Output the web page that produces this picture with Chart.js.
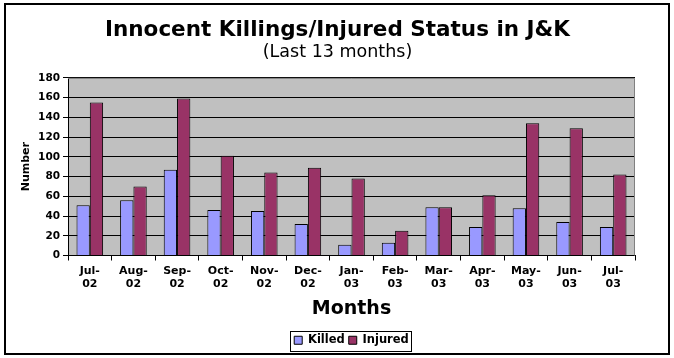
<!DOCTYPE html>
<html>
<head>
<meta charset="utf-8">
<script src="https://cdn.jsdelivr.net/npm/chart.js@4/dist/chart.umd.min.js"></script>
<style>
  html, body { margin: 0; padding: 0; background: #ffffff; }
  #wrap { width: 674px; height: 358px; position: relative; }
</style>
</head>
<body>
<div id="wrap"><canvas id="c" width="674" height="358"></canvas></div>
<script>
const months = [['Jul-','02'],['Aug-','02'],['Sep-','02'],['Oct-','02'],['Nov-','02'],['Dec-','02'],['Jan-','03'],['Feb-','03'],['Mar-','03'],['Apr-','03'],['May-','03'],['Jun-','03'],['Jul-','03']];
const killed  = [51, 56, 87, 46, 45, 32, 11, 13, 49, 29, 48, 34, 29];
const injured = [155, 70, 159, 101, 84, 89, 78, 25, 49, 61, 134, 129, 82];
const titleText = 'Innocent Killings/Injured Status in J&K';
const subtitleText = '(Last 13 months)';
const yTitle = 'Number';
const xTitle = 'Months';

const FONT = "'DejaVu Sans', Verdana, sans-serif";

const framePlugin = {
  id: 'frame',
  afterLayout(chart) {
    const lg = chart.legend;
    if (lg) { lg.left += 24; lg.right += 24; }
    chart.boxes.forEach(b => {
      if (b.position === 'top' && b !== lg) { b.left += 10; b.right += 10; }
    });
  },
  beforeDraw(chart) {
    const ctx = chart.ctx;
    const a = chart.chartArea;
    ctx.save();
    ctx.fillStyle = '#ffffff';
    ctx.fillRect(0, 0, chart.width, chart.height);
    ctx.fillStyle = '#C0C0C0';
    ctx.fillRect(a.left, a.top, a.right - a.left, a.bottom - a.top);
    ctx.restore();
  },
  afterDatasetsDraw(chart) {
    const ctx = chart.ctx;
    const a = chart.chartArea;
    ctx.save();
    ctx.strokeStyle = '#808080';
    ctx.lineWidth = 1;
    ctx.beginPath();
    ctx.moveTo(a.left, a.top + 0.5);
    ctx.lineTo(a.right - 0.5, a.top + 0.5);
    ctx.lineTo(a.right - 0.5, a.bottom);
    ctx.stroke();
    ctx.restore();
  },
  afterDraw(chart) {
    const ctx = chart.ctx;
    ctx.save();
    ctx.strokeStyle = '#000000';
    ctx.lineWidth = 2;
    ctx.strokeRect(5, 4, 664, 350);
    const hb = chart.legend && chart.legend.legendHitBoxes;
    if (hb && hb.length) {
      let l = Infinity, t = Infinity, r = -Infinity, b = -Infinity;
      hb.forEach(h => { l = Math.min(l, h.left); t = Math.min(t, h.top); r = Math.max(r, h.left + h.width); b = Math.max(b, h.top + h.height); });
      ctx.lineWidth = 1;
      ctx.strokeRect(Math.round(l - 4) + 0.5, Math.round(t - 4) + 0.5, Math.round(r - l + 6), Math.round(b - t + 8));
    }
    ctx.restore();
  }
};

new Chart(document.getElementById('c'), {
  type: 'bar',
  data: {
    labels: months,
    datasets: [
      { label: 'Killed', data: killed, backgroundColor: '#9999FF', borderColor: '#000000', borderWidth: 1 },
      { label: 'Injured', data: injured, backgroundColor: '#993366', borderColor: '#000000', borderWidth: 1 }
    ]
  },
  options: {
    responsive: false,
    animation: false,
    devicePixelRatio: 1,
    layout: { padding: { left: 20, right: 39, top: 0, bottom: 2 } },
    datasets: { bar: { categoryPercentage: 0.61, barPercentage: 1.0 } },
    plugins: {
      title: {
        display: true, text: titleText, color: '#000000',
        font: { family: FONT, size: 21.5, weight: 'bold', lineHeight: 1.1 },
        padding: { top: 19, bottom: 0 }
      },
      subtitle: {
        display: true, text: subtitleText, color: '#000000',
        font: { family: FONT, size: 17.5, weight: 'normal', lineHeight: 1.1 },
        padding: { top: 0, bottom: 16 }
      },
      legend: {
        position: 'bottom',
        labels: {
          color: '#000000',
          font: { family: FONT, size: 11.5, weight: 'bold' },
          boxWidth: 8, boxHeight: 8, padding: 4,
          generateLabels(chart) {
            return chart.data.datasets.map((d, i) => ({
              text: d.label, fillStyle: d.backgroundColor, strokeStyle: '#000000',
              lineWidth: 1, hidden: false, datasetIndex: i, fontColor: '#000000'
            }));
          }
        }
      },
      tooltip: { enabled: false }
    },
    scales: {
      x: {
        offset: true,
        grid: { display: true, offset: true, drawOnChartArea: false, drawTicks: true, tickLength: 5, color: '#000000' },
        border: { display: true, color: '#000000', width: 1 },
        ticks: { color: '#000000', font: { family: FONT, size: 11, weight: 'bold' }, maxRotation: 0, autoSkip: false, padding: 4 },
        title: { display: true, text: xTitle, color: '#000000', font: { family: FONT, size: 19, weight: 'bold' }, padding: { top: 4, bottom: 10 } },
        afterFit(s) { s.height = 75; }
      },
      y: {
        min: 0, max: 180,
        grid: { color: '#000000', lineWidth: 1, tickLength: 5, drawTicks: true },
        border: { display: true, color: '#000000', width: 1 },
        ticks: { stepSize: 20, color: '#000000', font: { family: FONT, size: 10.5, weight: 'bold' }, padding: 3 },
        title: { display: true, text: yTitle, color: '#000000', font: { family: FONT, size: 11, weight: 'bold' }, padding: 0 },
        afterFit(s) { s.width = 48; }
      }
    }
  },
  plugins: [framePlugin]
});
</script>
</body>
</html>
